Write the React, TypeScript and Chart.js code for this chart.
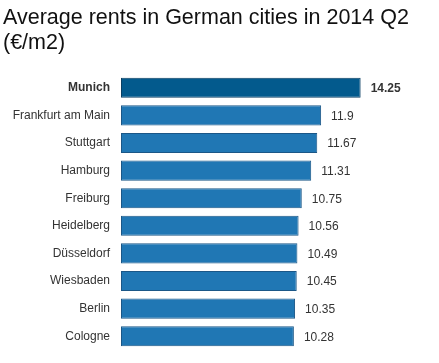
import React, { useEffect, useRef } from "react";
import { Chart, registerables } from "chart.js";

Chart.register(...registerables);

const titleLines = ["Average rents in German cities in 2014 Q2", "(€/m2)"];
const cities = [
  "Munich",
  "Frankfurt am Main",
  "Stuttgart",
  "Hamburg",
  "Freiburg",
  "Heidelberg",
  "Düsseldorf",
  "Wiesbaden",
  "Berlin",
  "Cologne",
];
const rents = [14.25, 11.9, 11.67, 11.31, 10.75, 10.56, 10.49, 10.45, 10.35, 10.28];
const valueLabels = ["14.25", "11.9", "11.67", "11.31", "10.75", "10.56", "10.49", "10.45", "10.35", "10.28"];

const FONT = "'Liberation Sans', Arial, sans-serif";

const valueLabelPlugin = {
  id: "valueLabels",
  afterDatasetsDraw(chart: any) {
    const ctx = chart.ctx;
    const meta = chart.getDatasetMeta(0);
    ctx.save();
    ctx.textBaseline = "middle";
    ctx.textAlign = "left";
    ctx.fillStyle = "#333333";
    meta.data.forEach((bar: any, i: number) => {
      ctx.font = `${i === 0 ? "bold " : ""}12px ${FONT}`;
      ctx.fillText(valueLabels[i], bar.x + 10, bar.y + 1);
    });
    ctx.restore();
  },
};

export default function App() {
  const ref = useRef<HTMLCanvasElement | null>(null);
  useEffect(() => {
    if (!ref.current) return;
    const chart = new Chart(ref.current, {
      type: "bar",
      data: {
        labels: cities,
        datasets: [
          {
            data: rents,
            backgroundColor: cities.map((_, i) => (i === 0 ? "#035a8d" : "#2077b4")),
            borderColor: cities.map((_, i) => (i === 0 ? "#0b3f63" : "#1b5787")),
            borderWidth: 1,
            borderSkipped: false,
            barPercentage: 0.73,
            categoryPercentage: 1,
          },
        ],
      },
      options: {
        indexAxis: "y",
        animation: false,
        responsive: false,
        maintainAspectRatio: false,
        layout: { padding: { left: 3, right: 20, top: 0, bottom: 13 } },
        plugins: {
          legend: { display: false },
          tooltip: { enabled: false },
          title: {
            display: true,
            text: titleLines,
            align: "start",
            color: "#111111",
            font: { family: FONT, size: 21.5, weight: "normal", lineHeight: 25 / 21.5 },
            padding: { top: 6, bottom: 18 },
          },
        },
        scales: {
          x: { display: false, min: 0, max: 17.72 },
          y: {
            grid: { display: false, drawTicks: false },
            border: { display: false },
            afterFit: (scale: any) => {
              scale.width = 118;
              scale.paddingTop = 0;
              scale.paddingBottom = 0;
            },
            ticks: {
              padding: 11,
              color: "#333333",
              font: (c: any) => ({
                family: FONT,
                size: 12,
                weight: c.index === 0 ? "bold" : "normal",
              }),
            },
          },
        },
      },
      plugins: [valueLabelPlugin],
    });
    return () => chart.destroy();
  }, []);
  return (
    <div style={{ position: "absolute", left: 0, top: 0, width: 439, height: 363, background: "#fff" }}>
      <canvas ref={ref} width={439} height={363} style={{ width: 439, height: 363 }} />
    </div>
  );
}
